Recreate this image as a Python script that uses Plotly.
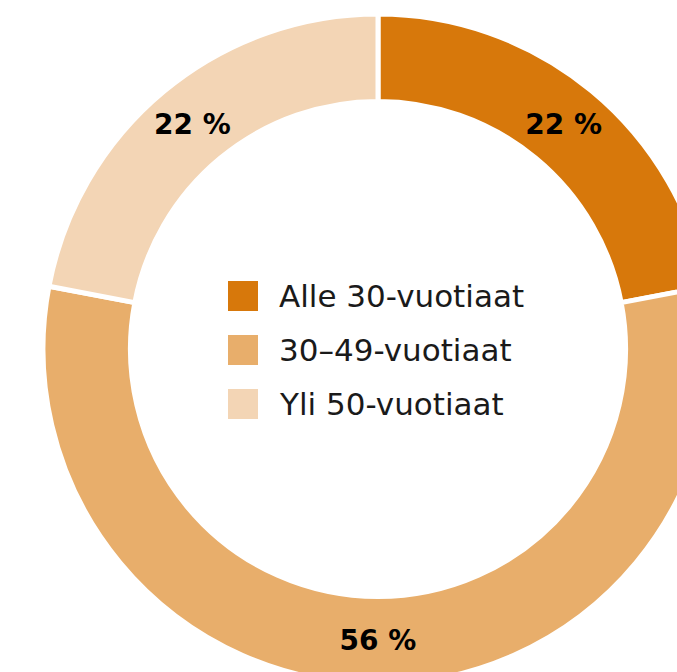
import plotly.graph_objects as go

# Age groups and their shares (%)
categories = ["Alle 30-vuotiaat", "30–49-vuotiaat", "Yli 50-vuotiaat"]
shares = [22, 56, 22]
colors = ["#D7780B", "#E8AE6B", "#F3D5B5"]

# Canvas: the ring is larger than the visible window and runs off right/bottom
W, H = 756, 698
ML, MT = 43, 14
D = 670  # ring diameter in px
MR, MB = W - ML - D, H - MT - D

fig = go.Figure(
    go.Pie(
        labels=categories,
        values=shares,
        hole=0.739,
        sort=False,
        direction="clockwise",
        rotation=0,
        marker=dict(colors=colors, line=dict(color="white", width=5)),
        texttemplate="%{value} %",
        textposition="inside",
        insidetextorientation="horizontal",
        textfont=dict(family="DejaVu Sans", size=28, color="black", weight="bold"),
        hoverinfo="label+value",
        showlegend=False,
    )
)


def px_x(px):
    return (px - ML) / D


def px_y(py):
    return 1 - (py - MT) / D


# Custom legend in the hole
shapes, annotations = [], []
for i, (name, col) in enumerate(zip(categories, colors)):
    top = 281 + i * 54
    shapes.append(dict(
        type="rect", xref="paper", yref="paper",
        x0=px_x(228), x1=px_x(258), y0=px_y(top + 30), y1=px_y(top),
        fillcolor=col, line=dict(width=0),
    ))
    annotations.append(dict(
        xref="paper", yref="paper", x=px_x(277), y=px_y(top + 15),
        xanchor="left", yanchor="middle", showarrow=False, text=name,
        font=dict(family="DejaVu Sans", size=31, color="#1a1a1a"),
    ))

fig.update_layout(
    width=W, height=H,
    margin=dict(l=ML, r=MR, t=MT, b=MB, pad=0),
    paper_bgcolor="white", plot_bgcolor="white",
    shapes=shapes, annotations=annotations,
)

fig.write_html(
    "out.html",
    post_script="document.documentElement.style.overflow='hidden';"
                "document.body.style.overflow='hidden';"
                "document.body.style.margin='0';",
)
